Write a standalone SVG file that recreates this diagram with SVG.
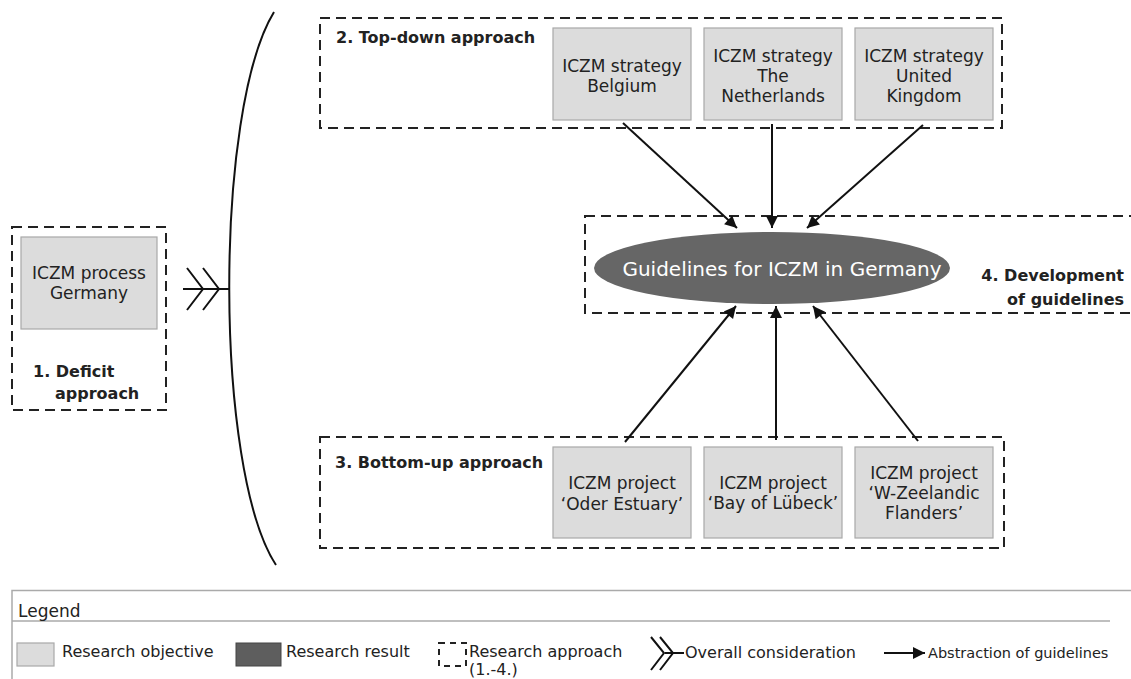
<svg xmlns="http://www.w3.org/2000/svg" width="1131" height="679" viewBox="0 0 1131 679">
<style>
.dash{fill:none;stroke:#222;stroke-width:2;stroke-dasharray:10,6}
.obj{fill:#dcdcdc;stroke:#a8a8a8;stroke-width:1.2}
.t{font-family:"DejaVu Sans",Verdana,sans-serif;font-size:17px;fill:#222;text-anchor:middle}
.b{font-family:"DejaVu Sans",Verdana,sans-serif;font-size:16px;font-weight:bold;fill:#222}
.lg{font-family:"DejaVu Sans",Verdana,sans-serif;font-size:16px;fill:#222}
.ln{stroke:#111;stroke-width:2;fill:none}
.gl{stroke:#aaa;stroke-width:1.5;fill:none}
</style>
<defs>
<marker id="ah" viewBox="0 0 10 10" refX="10" refY="5" markerWidth="15" markerHeight="12" markerUnits="userSpaceOnUse" orient="auto">
<path d="M0,0 L10,5 L0,10 z" fill="#111"/>
</marker>
</defs>
<rect width="1131" height="679" fill="#fff"/>

<g id="deficit">
<rect class="dash" x="12" y="227" width="154" height="183"/>
<rect class="obj" x="21" y="237" width="136" height="92"/>
<text class="t" x="89" y="279">ICZM process</text>
<text class="t" x="89" y="299">Germany</text>
<text class="b" x="33" y="377">1. Deficit</text>
<text class="b" x="55" y="399">approach</text>
</g>

<g id="consideration">
<path class="ln" d="M274,12 C214,110 214,470 276,565"/>
<path class="ln" d="M183,289 H230 M187,268 L203,289 L187,310 M203,268 L219,289 L203,310"/>
</g>

<g id="topdown">
<rect class="dash" x="320" y="18" width="682" height="110"/>
<text class="b" x="336" y="43">2. Top-down approach</text>
</g>
<g id="belgium">
<rect class="obj" x="553" y="28" width="138" height="92"/>
<text class="t" x="622" y="72">ICZM strategy</text>
<text class="t" x="622" y="92">Belgium</text>
</g>
<g id="netherlands">
<rect class="obj" x="704" y="28" width="138" height="92"/>
<text class="t" x="773" y="62">ICZM strategy</text>
<text class="t" x="773" y="82">The</text>
<text class="t" x="773" y="102">Netherlands</text>
</g>
<g id="uk">
<rect class="obj" x="855" y="28" width="138" height="92"/>
<text class="t" x="924" y="62">ICZM strategy</text>
<text class="t" x="924" y="82">United</text>
<text class="t" x="924" y="102">Kingdom</text>
</g>

<g id="development">
<rect class="dash" x="585" y="216" width="560" height="97"/>
<text class="b" x="1124" y="281" text-anchor="end">4. Development</text>
<text class="b" x="1124" y="305" text-anchor="end">of guidelines</text>
</g>
<g id="guidelines">
<ellipse cx="772" cy="268" rx="178" ry="36" fill="#666"/>
<text x="782" y="276" text-anchor="middle" font-family="DejaVu Sans, Verdana, sans-serif" font-size="20" fill="#fff">Guidelines for ICZM in Germany</text>
</g>

<g id="bottomup">
<rect class="dash" x="320" y="437" width="684" height="111"/>
<text class="b" x="335" y="468">3. Bottom-up approach</text>
</g>
<g id="oder">
<rect class="obj" x="553" y="447" width="138" height="91"/>
<text class="t" x="622" y="489">ICZM project</text>
<text class="t" x="622" y="510">‘Oder Estuary’</text>
</g>
<g id="luebeck">
<rect class="obj" x="704" y="447" width="138" height="91"/>
<text class="t" x="773" y="489">ICZM project</text>
<text class="t" x="773" y="509">‘Bay of Lübeck’</text>
</g>
<g id="zeeland">
<rect class="obj" x="855" y="447" width="138" height="91"/>
<text class="t" x="924" y="479">ICZM project</text>
<text class="t" x="924" y="499">‘W-Zeelandic</text>
<text class="t" x="924" y="519">Flanders’</text>
</g>

<g id="connectors">
<line class="ln" x1="623" y1="123" x2="737" y2="228" marker-end="url(#ah)"/>
<line class="ln" x1="772" y1="124" x2="772" y2="228" marker-end="url(#ah)"/>
<line class="ln" x1="923" y1="125" x2="807" y2="228" marker-end="url(#ah)"/>
<line class="ln" x1="625" y1="442" x2="736" y2="306" marker-end="url(#ah)"/>
<line class="ln" x1="776" y1="440" x2="776" y2="306" marker-end="url(#ah)"/>
<line class="ln" x1="918" y1="441" x2="813" y2="306" marker-end="url(#ah)"/>
</g>

<g id="legend">
<path class="gl" d="M12,679 V590.5 H1131"/>
<path class="gl" d="M12,621 H1110"/>
<text x="18" y="617" font-family="DejaVu Sans, Verdana, sans-serif" font-size="17" fill="#222">Legend</text>
<rect class="obj" x="17" y="643" width="37" height="23"/>
<text class="lg" x="62" y="657">Research objective</text>
<rect x="236" y="643" width="45" height="23" fill="#5e5e5e" stroke="#444" stroke-width="1"/>
<text class="lg" x="286" y="657">Research result</text>
<rect x="439" y="643" width="27" height="23" fill="none" stroke="#222" stroke-width="2" stroke-dasharray="6,5"/>
<text class="lg" x="469" y="657">Research approach</text>
<text class="lg" x="469" y="675">(1.-4.)</text>
<path class="ln" d="M665,653 H684 M651,637 L664,653 L651,670 M660,637 L673,653 L660,670" stroke-width="1.8"/>
<text class="lg" x="685" y="658">Overall consideration</text>
<line class="ln" x1="884" y1="653" x2="925" y2="653" marker-end="url(#ah)"/>
<text x="928" y="658" font-family="DejaVu Sans, Verdana, sans-serif" font-size="14.5" fill="#222">Abstraction of guidelines</text>
</g>
</svg>
